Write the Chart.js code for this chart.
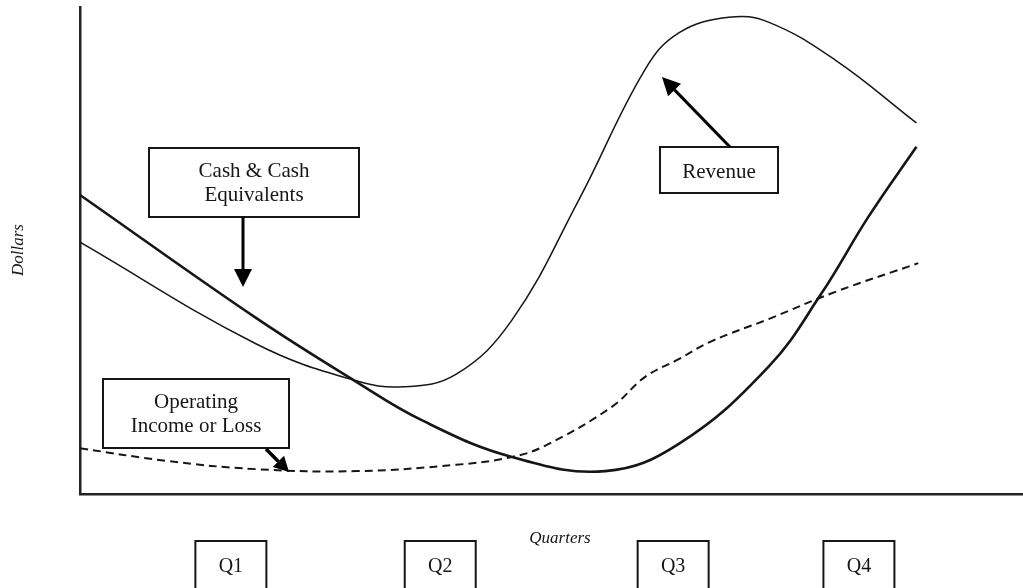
<!DOCTYPE html>
<html>
<head>
<meta charset="utf-8">
<script src="https://cdn.jsdelivr.net/npm/chart.js@4.4.1/dist/chart.umd.min.js"></script>
<style>
  html, body { margin: 0; padding: 0; background: #fff; }
  #wrap { width: 1023px; height: 588px; }
</style>
</head>
<body>
<div id="wrap"><canvas id="myChart" width="1023" height="588"></canvas></div>
<script>
// quarter tick labels on the x axis
const quarterLabels = ['Q1', 'Q2', 'Q3', 'Q4'];
const quarterPos = [1.60, 3.82, 6.29, 8.26];

// Cash & Cash Equivalents (thick solid)
const cashX = [0, 1.87, 2.90, 3.64, 4.58, 5.57, 6.35, 7.30, 7.86, 8.36, 8.87];
const cashY = [61.4, 36.1, 23.4, 15.0, 7.6, 4.7, 10.3, 26.1, 41.1, 56.9, 71.3];

// Revenue (thin solid)
const revX = [0, 1.87, 2.90, 3.43, 3.99, 4.58, 5.29, 5.99, 6.35, 6.88, 7.30, 8.01, 8.87];
const revY = [51.7, 30.8, 23.4, 22.0, 24.6, 35.7, 60.4, 87.1, 94.7, 97.9, 96.9, 89.1, 76.2];

// Operating Income or Loss (dashed)
const opX = [0, 0.92, 1.87, 2.93, 3.99, 4.58, 4.93, 5.64, 5.99, 6.35, 6.70, 7.30, 8.01, 8.89];
const opY = [9.4, 6.8, 5.1, 4.7, 6.0, 7.6, 9.9, 17.9, 24.0, 27.7, 31.4, 35.9, 41.5, 47.4];

const toPoints = (xs, ys) => xs.map((x, i) => ({ x: x, y: ys[i] }));

const serif = '"Liberation Serif", "DejaVu Serif", serif';
const ink = '#161616';

function drawArrow(ctx, x1, y1, x2, y2, headLen, headHalf, width) {
    const ang = Math.atan2(y2 - y1, x2 - x1);
    const bx = x2 - headLen * Math.cos(ang);
    const by = y2 - headLen * Math.sin(ang);
    ctx.lineWidth = width;
    ctx.beginPath();
    ctx.moveTo(x1, y1);
    ctx.lineTo(bx, by);
    ctx.stroke();
    ctx.beginPath();
    ctx.moveTo(x2, y2);
    ctx.lineTo(bx + headHalf * Math.sin(ang), by - headHalf * Math.cos(ang));
    ctx.lineTo(bx - headHalf * Math.sin(ang), by + headHalf * Math.cos(ang));
    ctx.closePath();
    ctx.fill();
}

function drawBox(ctx, x, y, w, h, lines, lineY) {
    ctx.fillStyle = '#fff';
    ctx.fillRect(x, y, w, h);
    ctx.lineWidth = 2;
    ctx.strokeRect(x, y, w, h);
    ctx.fillStyle = ink;
    ctx.font = '21px ' + serif;
    ctx.textAlign = 'center';
    ctx.textBaseline = 'middle';
    lines.forEach((t, i) => ctx.fillText(t, x + w / 2, lineY[i]));
}

const callouts = {
    id: 'callouts',
    afterDraw(chart) {
        const ctx = chart.ctx;
        ctx.save();
        ctx.strokeStyle = ink;
        ctx.fillStyle = ink;

        // boxes around the quarter ticks
        const xs = chart.scales.x;
        ctx.lineWidth = 2;
        xs.ticks.forEach(t => {
            const cx = xs.getPixelForValue(t.value);
            ctx.strokeRect(cx - 35.5, 541, 71, 60);
        });

        drawBox(ctx, 149, 148, 210, 69, ['Cash & Cash', 'Equivalents'], [171, 195]);
        drawBox(ctx, 660, 147, 118, 46, ['Revenue'], [172]);
        drawBox(ctx, 103, 379, 186, 69, ['Operating', 'Income or Loss'], [402, 426]);

        ctx.strokeStyle = '#000';
        ctx.fillStyle = '#000';
        drawArrow(ctx, 243, 217, 243, 287, 18, 9, 3);
        drawArrow(ctx, 730, 147, 662, 77, 18, 9, 3);
        drawArrow(ctx, 266, 449, 289, 472, 15, 8, 3.5);

        // axis titles
        ctx.fillStyle = ink;
        ctx.font = 'italic 17px ' + serif;
        ctx.textAlign = 'center';
        ctx.textBaseline = 'middle';
        ctx.fillText('Quarters', 560, 539);
        ctx.save();
        ctx.translate(19, 250);
        ctx.rotate(-Math.PI / 2);
        ctx.fillText('Dollars', 0, 0);
        ctx.restore();

        ctx.restore();
    }
};

const data = {
    datasets: [
        {
            label: 'Cash & Cash Equivalents',
            data: toPoints(cashX, cashY),
            borderColor: ink,
            borderWidth: 2.6,
            pointRadius: 0,
            tension: 0.4
        },
        {
            label: 'Revenue',
            data: toPoints(revX, revY),
            borderColor: ink,
            borderWidth: 1.5,
            pointRadius: 0,
            tension: 0.4
        },
        {
            label: 'Operating Income or Loss',
            data: toPoints(opX, opY),
            borderColor: ink,
            borderWidth: 2,
            borderDash: [8, 5],
            pointRadius: 0,
            tension: 0.4
        }
    ]
};

const config = {
    type: 'line',
    data: data,
    options: {
        responsive: false,
        animation: false,
        layout: { padding: { left: 80, right: 0, top: 7, bottom: 0 } },
        plugins: {
            legend: { display: false },
            tooltip: { enabled: false }
        },
        scales: {
            x: {
                type: 'linear',
                min: 0,
                max: 10,
                grid: { display: false },
                border: { display: true, color: '#222', width: 2.5 },
                afterBuildTicks: (scale) => {
                    scale.ticks = quarterPos.map(v => ({ value: v }));
                },
                afterFit: (scale) => { scale.height = 94; },
                ticks: {
                    autoSkip: false,
                    maxRotation: 0,
                    padding: 53,
                    color: ink,
                    font: { family: serif, size: 20 },
                    callback: (value, index) => quarterLabels[index]
                }
            },
            y: {
                type: 'linear',
                min: 0,
                max: 100,
                grid: { display: false },
                border: { display: true, color: '#222', width: 2.5 },
                ticks: { display: false },
                afterFit: (scale) => { scale.width = 0; }
            }
        }
    },
    plugins: [callouts]
};

const ctx = document.getElementById('myChart').getContext('2d');
new Chart(ctx, config);
</script>
</body>
</html>
